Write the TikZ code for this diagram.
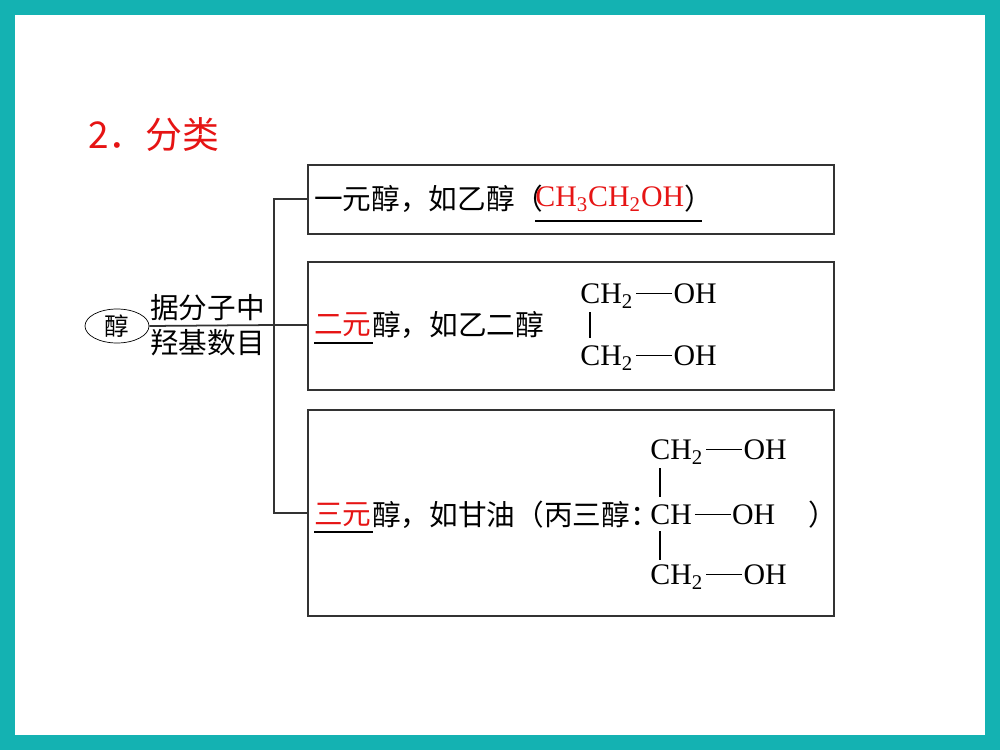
\documentclass[tikz,border=0pt]{standalone}
\usepackage{fontspec}
\usetikzlibrary{shapes.geometric}
\setmainfont{Liberation Serif}
\newfontfamily\cjk{Noto Sans CJK SC}
\definecolor{teal1}{RGB}{20,178,178}
\definecolor{red1}{RGB}{230,20,20}
\newcommand{\bondl}{\hspace{0.1em}\rule[0.32em]{1.2em}{0.8pt}\hspace{0.05em}}
\begin{document}
\begin{tikzpicture}[x=0.02cm,y=-0.02cm,
  txt/.style={anchor=west,inner sep=0,font=\fontsize{16.3}{18}\selectfont\cjk},
  chem/.style={anchor=west,inner sep=0,font=\fontsize{17}{19}\selectfont},
  box/.style={draw=black!80,line width=0.9pt},
  ln/.style={draw=black!80,line width=1pt}]
\fill[teal1] (0,0) rectangle (1000,750);
\fill[white] (15,15) rectangle (985,735);
\node[txt,text=red1,font=\fontsize{21}{24}\selectfont\cjk] (title) at (88,135) {2．分类};
\draw[box] (308,165) rectangle (834,234);
\draw[box] (308,262) rectangle (834,390);
\draw[box] (308,410) rectangle (834,616);
\node[draw,ellipse,inner sep=0,minimum width=1.28cm,minimum height=0.68cm,font=\fontsize{14}{15}\selectfont\cjk] (chun) at (117,326) {醇};
\coordinate (j) at (274,325);
\draw[ln] (chun.east) -- (j);
\node[txt] (t1) at (150,308) {据分子中};
\node[txt] (t2) at (150,343) {羟基数目};
\coordinate (a) at (308,199);
\coordinate (b) at (308,325);
\coordinate (c) at (308,513);
\draw[ln] (a) -| (j) |- (c);
\draw[ln] (j) -- (b);
% box 1
\node[txt] (l1) at (314,199) {一元醇，如乙醇（};
\node[chem,text=red1] (f1) at (535,199) {CH\textsubscript{3}CH\textsubscript{2}OH};
\node[txt] (r1) at (f1.east) {）};
\draw[line width=0.8pt] (535,221) -- (702,221);
% box 2
\node[txt,text=red1] (l2a) at (314,325) {二元};
\node[txt] (l2b) at (l2a.east) {醇，如乙二醇};
\draw[line width=0.8pt] (314,343) -- (373,343);
\node[chem] (g1) at (580,296) {CH\textsubscript{2}\bondl OH};
\node[chem] (g2) at (580,358) {CH\textsubscript{2}\bondl OH};
\draw[line width=0.7pt] (590,312) -- (590,338);
% box 3
\node[txt,text=red1] (l3a) at (314,515) {三元};
\node[txt] (l3b) at (l3a.east) {醇，如甘油（丙三醇：};
\draw[line width=0.8pt] (314,532) -- (373,532);
\node[chem] (h1) at (650,452) {CH\textsubscript{2}\bondl OH};
\node[chem] (h2) at (650,515) {CH\bondl OH};
\node[chem] (h3) at (650,577) {CH\textsubscript{2}\bondl OH};
\draw[line width=0.7pt] (660,468) -- (660,497);
\draw[line width=0.7pt] (660,531) -- (660,560);
\node[txt] (r3) at (808,515) {）};
\end{tikzpicture}
\end{document}
